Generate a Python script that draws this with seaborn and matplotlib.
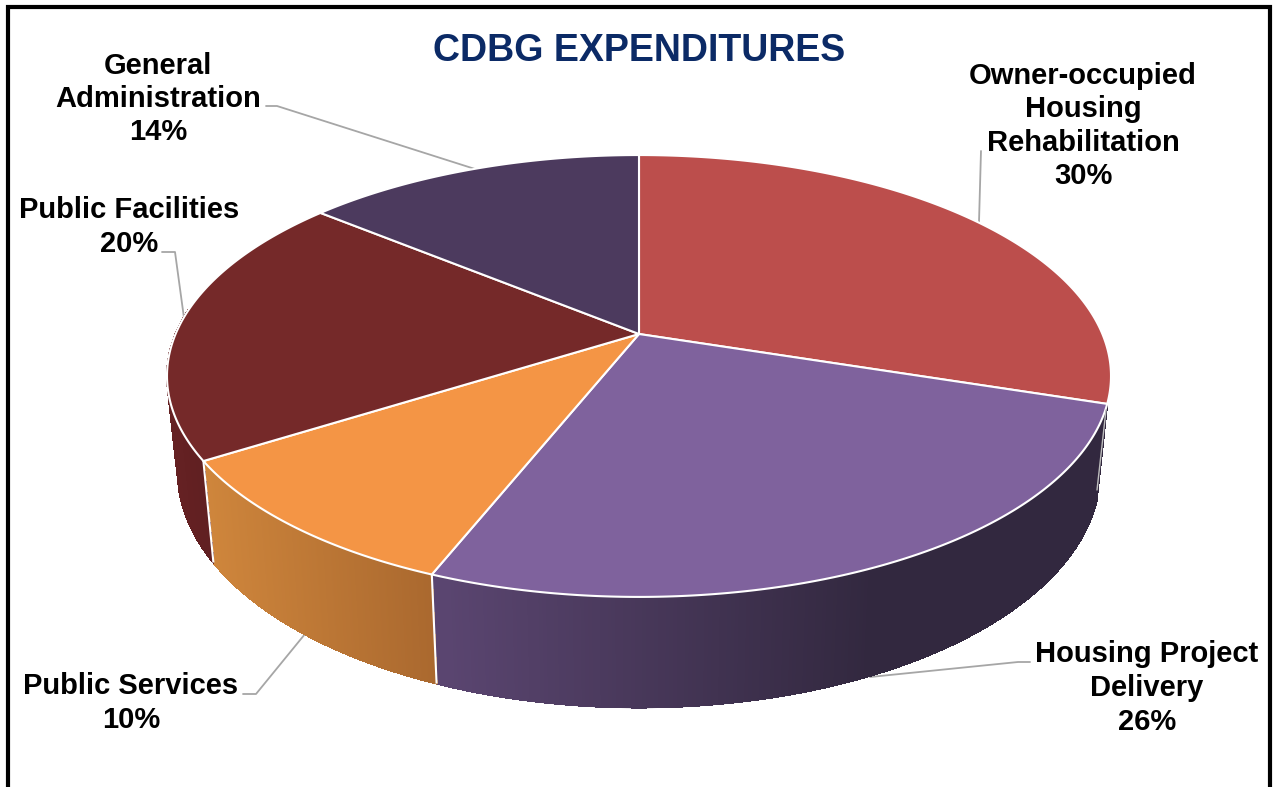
import numpy as np
import matplotlib
matplotlib.use("Agg")
import matplotlib.pyplot as plt
from matplotlib.collections import PolyCollection, LineCollection
from matplotlib.colors import to_rgb
from matplotlib.patches import Polygon
import seaborn as sns

# Expenditure shares, clockwise from twelve o'clock
categories = ["Owner-occupied\nHousing\nRehabilitation", "Housing Project\nDelivery",
              "Public Services", "Public Facilities", "General\nAdministration"]
shares = [30, 26, 10, 20, 14]
top_colors = ["#BC4E4C", "#7F629D", "#F49545", "#752929", "#4C3A5E"]
rim_start = ["#8A3836", "#5A4570", "#CF863C", "#652123", "#3A2C48"]
rim_end = ["#8A3836", "#32283F", "#A8672E", "#5F1F21", "#3A2C48"]
title = "CDBG EXPENDITURES"

sns.set_theme(style="white")
plt.rcParams["font.family"] = ["Liberation Sans", "DejaVu Sans"]
W, H = 1274, 787
fig = plt.figure(figsize=(W / 100, H / 100), dpi=100, facecolor="white")
ax = fig.add_axes([0, 0, 1, 1])
ax.set_xlim(0, W)
ax.set_ylim(H, 0)
ax.axis("off")


def project(theta, level=0.0):
    """Perspective view of a disc: theta clockwise from the far point, level 0 top, 1 base."""
    u, v = np.sin(theta), np.cos(theta)
    w = 1 + 0.19 * v
    shrink = 1 - 0.023 * level
    x = 639 + 463.4 * shrink * u / w
    y = (334 + 93 * level - 149.5 * shrink * v) / w
    return np.column_stack([x, y])


edges = np.radians(360 * np.cumsum([0] + shares) / sum(shares))
top_palette = sns.color_palette(top_colors)

# Rim of the near slices only; the far part sits behind the top faces
spans = {1: (447, 870), 2: (205, 445), 3: (175, 215)}
for i, (x0, x1) in spans.items():
    th = np.linspace(edges[i], edges[i + 1], 241)
    th = th[np.cos(th) < 0.12]
    upper, lower = project(th), project(th, 1)
    c0, c1 = np.array(to_rgb(rim_start[i])), np.array(to_rgb(rim_end[i]))
    quads, segments, colors = [], [], []
    for j in range(len(th) - 1):
        quads.append([upper[j], upper[j + 1], lower[j + 1], lower[j]])
        segments.append([lower[j], lower[j + 1]])
        xm = 0.5 * (upper[j, 0] + lower[j + 1, 0])
        t = np.clip((xm - x0) / (x1 - x0), 0, 1)
        colors.append(c0 + (c1 - c0) * t)
    ax.add_collection(PolyCollection(quads, facecolors=colors, edgecolors=colors, linewidths=0.8,
                                     antialiaseds=False, zorder=2))
    ax.add_collection(LineCollection(segments, colors=colors, linewidths=1.0, zorder=2))

# White seams on the rim at the visible slice boundaries
for k in (2, 3):
    seam = np.vstack([project(edges[k]), project(edges[k], 1)])
    ax.plot(seam[:, 0], seam[:, 1], color="white", lw=1.5, zorder=3, solid_capstyle="butt")

# Top faces meeting at the projected disc centre
hub = np.array([[639.0, 334.0]])
for i in range(len(shares)):
    th = np.linspace(edges[i], edges[i + 1], 200)
    ax.add_patch(Polygon(np.vstack([hub, project(th)]), closed=True, facecolor=top_palette[i],
                         edgecolor="white", lw=1.5, joinstyle="round", zorder=4))

# Leader lines
grey = "#A6A6A6"
leaders = [
    [(981, 151), (979, 222)],
    [(1030, 662), (1018, 662), (870, 677)],
    [(243, 694), (256, 694), (305, 634)],
    [(162, 252), (175, 252), (184, 318)],
    [(266, 106), (277, 106), (475, 169)],
]
for pts in leaders:
    xs, ys = zip(*pts)
    ax.plot(xs, ys, color=grey, lw=1.3, zorder=1)
ax.plot([1106, 1097], [410, 490], color="#BDBDBD", lw=1.0, zorder=5)

# Slice labels
anchors = [(1083, 126), (1147, 688), (131, 703), (129, 227), (158, 99)]
for name, share, (x, y) in zip(categories, shares, anchors):
    ax.text(x, y, f"{name}\n{share}%", ha="center", va="center", fontsize=21, fontweight="bold",
            color="black", linespacing=1.25, zorder=6)

ax.text(639, 51, title, ha="center", va="center", fontsize=27, fontweight="bold", color="#0B2A66", zorder=6)

# Frame, open along the bottom edge
ax.plot([8, 8, 1270, 1270], [H, 7, 7, H], color="black", lw=3.0, zorder=7, solid_joinstyle="miter")

fig.savefig("out.png", dpi=100, facecolor="white")
